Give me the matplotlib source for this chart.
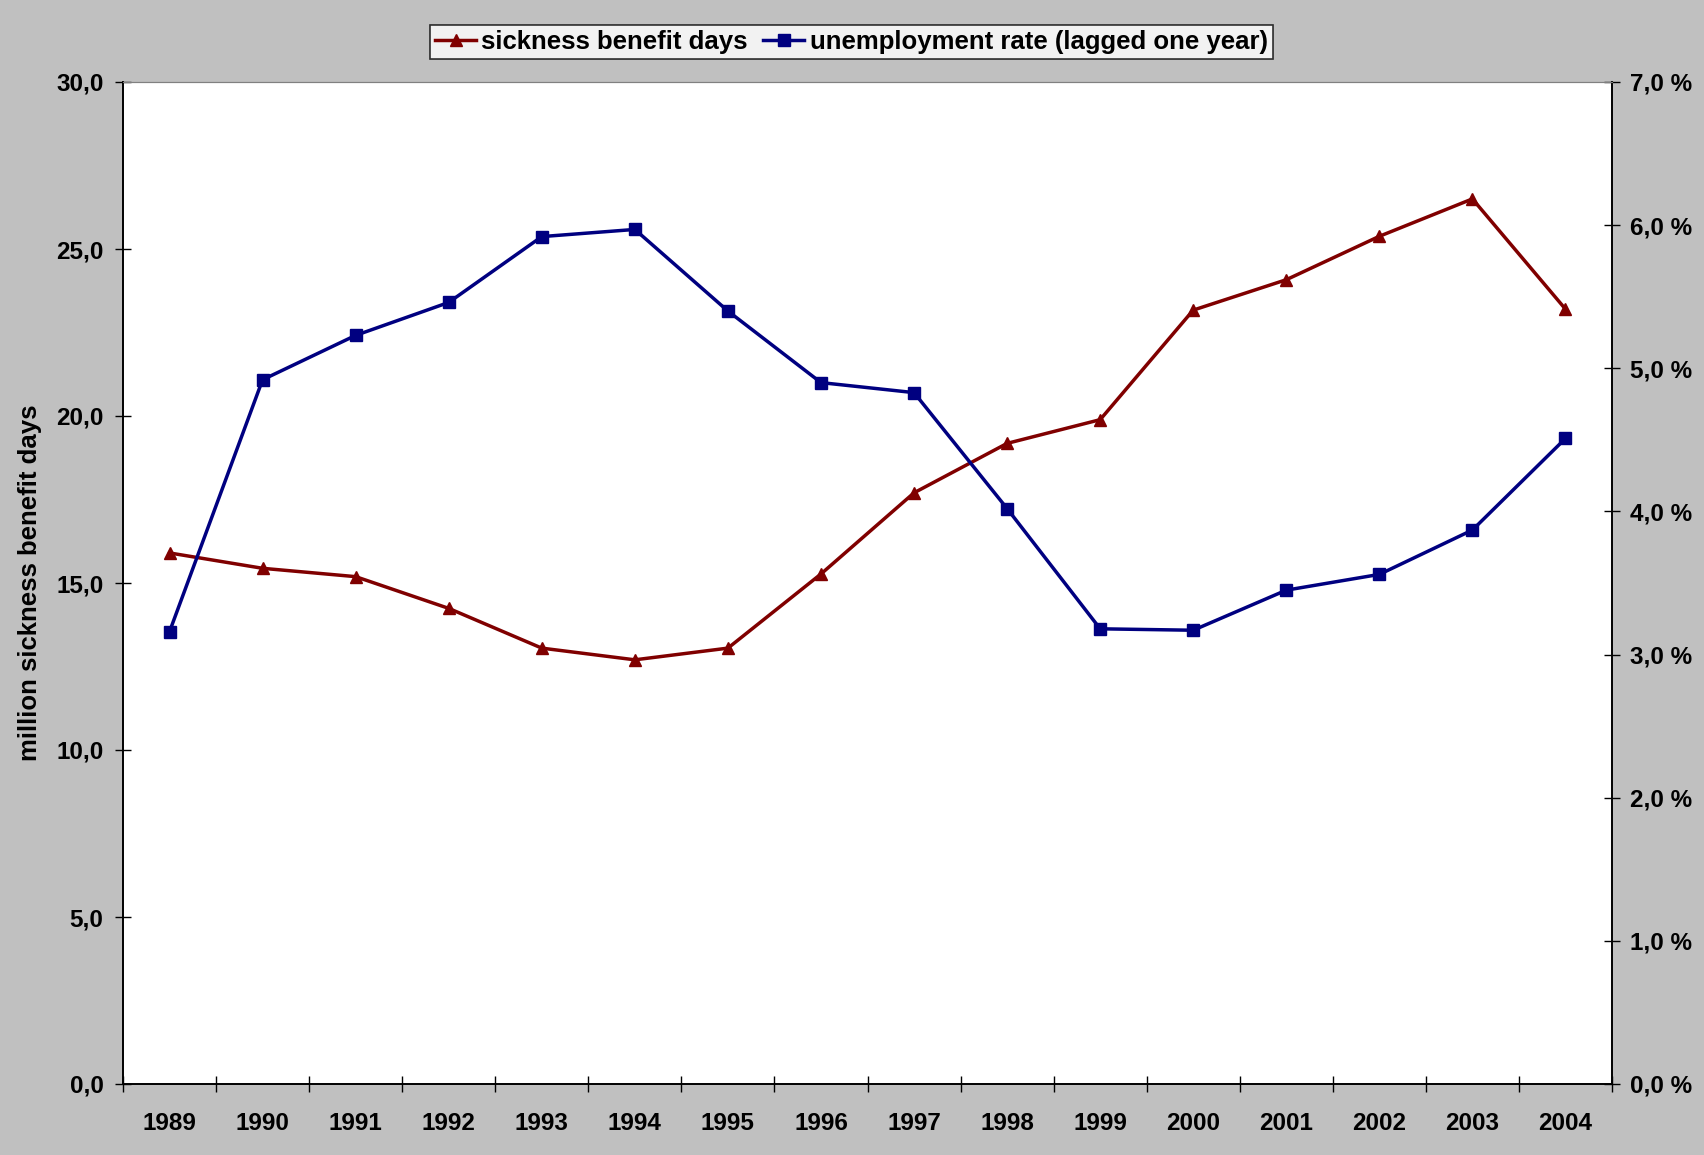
import matplotlib.pyplot as plt
from matplotlib.ticker import FuncFormatter, FixedLocator

plt.rcParams['font.family'] = ['Liberation Sans', 'DejaVu Sans']
plt.rcParams['font.weight'] = 'bold'

# Data
years = ['1989', '1990', '1991', '1992', '1993', '1994', '1995', '1996',
         '1997', '1998', '1999', '2000', '2001', '2002', '2003', '2004']
sickness_days = [15.9, 15.44, 15.19, 14.24, 13.05, 12.7, 13.05, 15.27,
                 17.7, 19.18, 19.89, 23.17, 24.08, 25.38, 26.5, 23.2]
unemployment = [3.16, 4.92, 5.23, 5.46, 5.92, 5.97, 5.40, 4.90,
                4.83, 4.02, 3.18, 3.17, 3.45, 3.56, 3.87, 4.51]

red = '#800000'
blue = '#000080'
bg = '#C0C0C0'

fig = plt.figure(figsize=(17.04, 11.55), dpi=100, facecolor=bg)
ax = fig.add_axes([123 / 1704, 1 - 1084 / 1155, (1612 - 123) / 1704, (1084 - 82) / 1155])
ax.set_facecolor('white')
ax2 = ax.twinx()

x = list(range(len(years)))
l1, = ax.plot(x, sickness_days, color=red, lw=2.5, marker='^', markersize=8.5,
              label='sickness benefit days')
l2, = ax2.plot(x, unemployment, color=blue, lw=2.5, marker='s', markersize=8,
               label='unemployment rate (lagged one year)')

ax.set_xlim(-0.5, len(years) - 0.5)
ax.set_ylim(0, 30)
ax2.set_ylim(0, 7)

ax.set_yticks([0, 5, 10, 15, 20, 25, 30])
ax2.set_yticks([0, 1, 2, 3, 4, 5, 6, 7])
ax.yaxis.set_major_formatter(FuncFormatter(lambda v, p: f'{v:.1f}'.replace('.', ',')))
ax2.yaxis.set_major_formatter(FuncFormatter(lambda v, p: f'{v:.1f} %'.replace('.', ',')))

# category axis: ticks between years, labels centred
ax.xaxis.set_major_locator(FixedLocator([i - 0.5 for i in range(len(years) + 1)]))
ax.xaxis.set_major_formatter(FuncFormatter(lambda v, p: ''))
ax.xaxis.set_minor_locator(FixedLocator(x))
ax.set_xticklabels(years, minor=True)
ax.tick_params(axis='x', which='minor', length=0, pad=20, labelsize=17.5)
ax.tick_params(axis='x', which='major', direction='inout', length=12, width=1)

ax.tick_params(axis='y', direction='inout', length=12, width=1, pad=8, labelsize=17.5)
ax2.tick_params(axis='y', direction='inout', length=12, width=1, pad=7, labelsize=17.5)

for a in (ax, ax2):
    a.spines['top'].set_color('#808080')
    for s in ('left', 'right', 'bottom'):
        a.spines[s].set_color('black')
        a.spines[s].set_linewidth(1.2)

ax.set_ylabel('million sickness benefit days', fontsize=18.5, fontweight='bold', labelpad=10)

leg = fig.legend(handles=[l1, l2], loc='center', bbox_to_anchor=(0.4996, 0.9635),
                 ncol=2, fontsize=18.5, frameon=True, fancybox=False,
                 handlelength=1.6, handletextpad=0.2, columnspacing=0.6,
                 borderpad=0.2, borderaxespad=0)
leg.get_frame().set_edgecolor('black')
leg.get_frame().set_linewidth(1.2)
leg.get_frame().set_facecolor('white')

fig.savefig('out.png', dpi=100, facecolor=bg)
